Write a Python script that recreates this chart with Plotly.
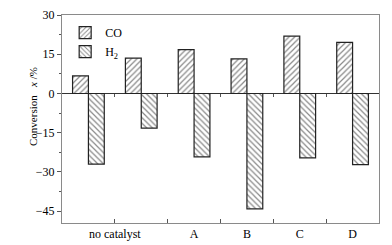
import plotly.graph_objects as go

positions = [1, 2, 3, 4, 5, 6]
co_values = [6.7, 13.5, 16.8, 13.2, 21.9, 19.5]
h2_values = [-27.0, -13.2, -24.2, -44.1, -24.6, -27.2]
label_positions = [1.5, 3, 4, 5, 6]
label_texts = ["no catalyst", "A", "B", "C", "D"]
divider_positions = [1.5, 2.5, 3.5, 4.5, 5.5]
y_ticks = [-45, -30, -15, 0, 15, 30]
y_range = [-49.5, 30]

font = dict(family="Liberation Serif, Times New Roman, serif", size=12, color="black")
axis_gray = "#8a8a8a"

fig = go.Figure()
fig.add_trace(go.Bar(
    x=positions, y=co_values, name="CO",
    marker=dict(color="white", line=dict(color="#222", width=1.2),
                pattern=dict(shape="/", size=4, solidity=0.3, fgcolor="#111", bgcolor="white")),
))
fig.add_trace(go.Bar(
    x=positions, y=h2_values, name="H<sub>2</sub>",
    marker=dict(color="white", line=dict(color="#222", width=1.2),
                pattern=dict(shape="\\", size=4, solidity=0.3, fgcolor="#111", bgcolor="white")),
))
# invisible helper trace so the zero-line tick axis is drawn
fig.add_trace(go.Scatter(x=[positions[0]], y=[0], xaxis="x2", mode="markers",
                         marker=dict(opacity=0), showlegend=False, hoverinfo="skip"))

zero_frac = (0 - y_range[0]) / (y_range[1] - y_range[0])

fig.update_layout(
    width=392, height=245, autosize=False,
    margin=dict(l=62, r=13, t=15, b=22, pad=0, autoexpand=False),
    paper_bgcolor="white", plot_bgcolor="white",
    font=font,
    barmode="group", bargap=0.4, bargroupgap=0,
    showlegend=True,
    legend=dict(x=0.01, y=0.985, xanchor="left", yanchor="top",
                bgcolor="rgba(0,0,0,0)", font=dict(size=12),
                tracegroupgap=0),
    xaxis=dict(range=[0.5, 6.5], tickmode="array", tickvals=label_positions,
               ticktext=label_texts, ticks="", showline=True, linecolor=axis_gray,
               linewidth=1, mirror=True, showgrid=False, zeroline=False, automargin=False,
               minor=dict(tickmode="array", tickvals=divider_positions, ticks="inside",
                          ticklen=4, tickcolor="#555", showgrid=False)),
    xaxis2=dict(range=[0.5, 6.5], overlaying="x", anchor="free", position=zero_frac,
                side="bottom", tickmode="array", tickvals=divider_positions,
                showticklabels=False, ticks="outside", ticklen=3, tickcolor="#555",
                showline=False, showgrid=False, zeroline=False, automargin=False),
    yaxis=dict(range=y_range, tickmode="array", tickvals=y_ticks, ticks="outside",
               ticklen=4, tickcolor="#555", showline=True, linecolor=axis_gray,
               linewidth=1, mirror=True, showgrid=False, zeroline=True, automargin=False,
               zerolinecolor="#333", zerolinewidth=1,
               minor=dict(tickmode="linear", tick0=0, dtick=7.5, ticks="outside",
                          ticklen=2, tickcolor="#555", showgrid=False)),
    annotations=[dict(text="Conversion &nbsp;&nbsp;<i>x</i> /%", textangle=-90,
                      xref="paper", yref="paper", x=-0.0915, y=0.5625,
                      xanchor="center", yanchor="middle",
                      showarrow=False,
                      font=dict(family=font["family"], size=11, color="black"))],
)

fig.write_html("out.html", config={"displayModeBar": False},
               post_script="document.body.style.margin='0';")
